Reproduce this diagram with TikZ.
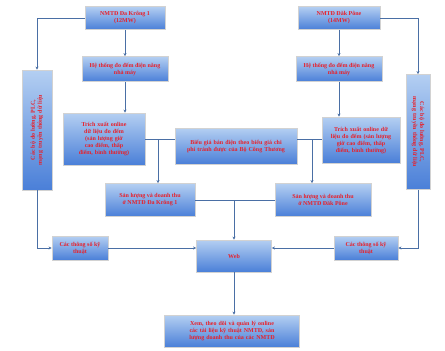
\documentclass[tikz,border=0pt]{standalone}
\usepackage{fontspec}
\setmainfont{Liberation Serif}
\usetikzlibrary{arrows.meta,shadows}
\definecolor{boxtop}{HTML}{B4CFF2}
\definecolor{boxbot}{HTML}{4A7FD8}
\definecolor{txtred}{HTML}{E8202A}
\definecolor{linec}{HTML}{4A6FA5}
\begin{document}
\begin{tikzpicture}[x=1pt,y=-1pt,
  box/.style={draw=gray!35,line width=0.8pt,top color=boxtop,bottom color=boxbot,
    text=txtred,font=\fontsize{6}{7}\selectfont\bfseries,align=center,
    inner sep=2pt,drop shadow={shadow xshift=0.8pt,shadow yshift=-0.8pt,opacity=0.25}},
  conn/.style={draw=linec,line width=0.9pt},
  arr/.style={conn,-{Stealth[length=3pt,width=3pt]}}]
\useasboundingbox (0,0) rectangle (445,351);
\node[box,minimum width=80pt,minimum height=23pt] (top1) at (125,18) {NMTĐ Đa Krông 1\\(12MW)};
\node[box,minimum width=82pt,minimum height=23pt] (top2) at (339,18) {NMTĐ Đăk Pône\\(14MW)};
\node[box,minimum width=86pt,minimum height=25pt] (hts1) at (125,69) {Hệ thống đo đếm điện năng\\nhà máy};
\node[box,minimum width=86pt,minimum height=25pt] (hts2) at (339,69) {Hệ thống đo đếm điện năng\\nhà máy};
\node[box,minimum width=82pt,minimum height=52pt,text width=60pt] (tx1) at (104,139) {Trích xuất online dữ liệu đo đếm (sản lượng giờ cao điểm, thấp điểm, bình thường)};
\node[box,minimum width=78pt,minimum height=46pt,text width=64pt] (tx2) at (361,140) {Trích xuất online dữ liệu đo đếm (sản lượng giờ cao điểm, thấp điểm, bình thường)};
\node[box,minimum width=122pt,minimum height=36pt,text width=104pt] (bg) at (236,146) {Biểu giá bán điện theo biểu giá chi phí tránh được của Bộ Công Thương};
\node[box,minimum width=90pt,minimum height=33pt] (sl1) at (150,200) {Sản lượng và doanh thu\\ở NMTĐ Đa Krông 1};
\node[box,minimum width=96pt,minimum height=33pt] (sl2) at (323,200) {Sản lượng và doanh thu\\ở NMTĐ Đăk Pône};
\node[box,rotate=90,minimum width=120pt,minimum height=30pt,text width=90pt] (v1) at (37,130) {Các bộ đo lường, PLC, mạng truyền thông dữ liệu};
\node[box,rotate=-90,minimum width=115pt,minimum height=24pt,text width=90pt] (v2) at (418,132) {Các bộ đo lường, PLC, mạng truyền thông dữ liệu};
\node[box,minimum width=56pt,minimum height=24pt] (p1) at (80,248) {Các thông số kỹ\\thuật};
\node[box,minimum width=64pt,minimum height=24pt] (p2) at (366,248) {Các thông số kỹ\\thuật};
\node[box,minimum width=75pt,minimum height=32pt] (web) at (234,256) {Web};
\node[box,minimum width=135pt,minimum height=32pt,text width=124pt] (bot) at (232,331) {Xem, theo dõi và quản lý online các tài liệu kỹ thuật NMTĐ, sản lượng doanh thu của các NMTĐ};
\coordinate (jl) at (158,139);
\coordinate (jr) at (312,139);
\coordinate (jw) at (234,200);
% connectors
\draw[arr] (top1.west) -| (v1.east);
\draw[arr] (top2.east) -| (v2.west);
\draw[arr] (v1.west) |- (p1.west);
\draw[arr] (v2.east) |- (p2.east);
\draw[arr] (top1.south) -- (hts1.north);
\draw[arr] (top2.south) -- (hts2.north);
\draw[arr] (hts1.south) -- (hts1.south |- tx1.north);
\draw[arr] (hts2.south) -- (hts2.south |- tx2.north);
\draw[conn] (tx1.east |- jl) -- (jl);
\draw[conn] (bg.west |- jl) -- (jl);
\draw[arr] (jl) -- (jl |- sl1.north);
\draw[conn] (tx2.west |- jr) -- (jr);
\draw[conn] (bg.east |- jr) -- (jr);
\draw[arr] (jr) -- (jr |- sl2.north);
\draw[conn] (sl1.east) -- (jw);
\draw[conn] (sl2.west) -- (jw);
\draw[arr] (jw) -- (web.north);
\draw[arr] (p1.east) -- (p1.east -| web.west);
\draw[arr] (p2.west) -- (p2.west -| web.east);
\draw[arr] (web.south) -- (web.south |- bot.north);
\end{tikzpicture}
\end{document}
